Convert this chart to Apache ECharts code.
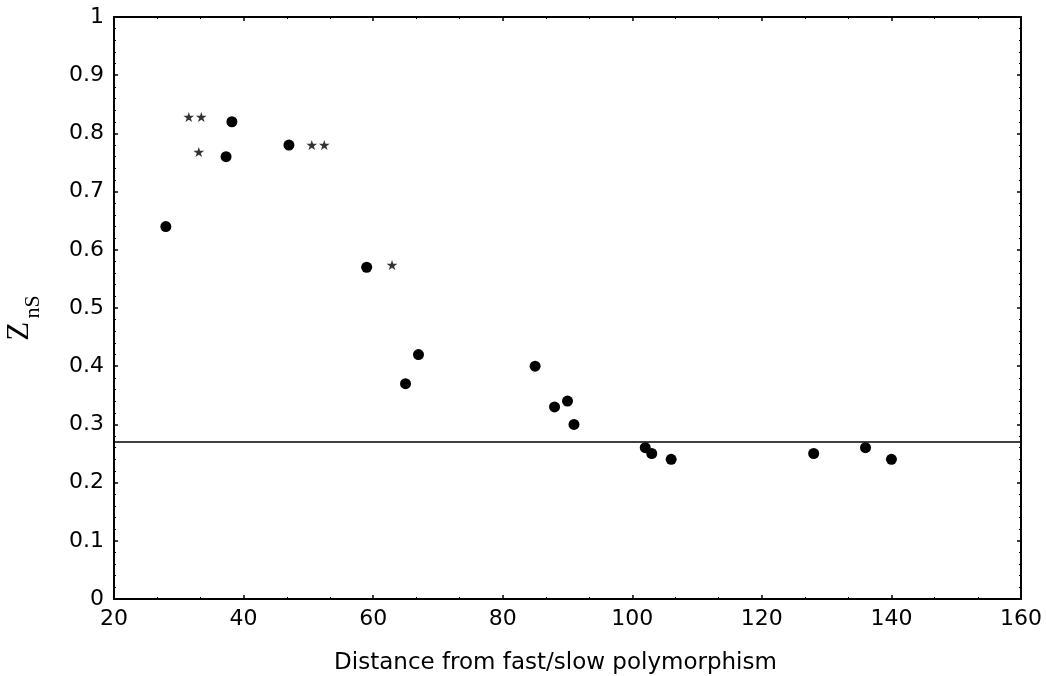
<!DOCTYPE html>
<html>
<head>
<meta charset="utf-8">
<script src="https://cdn.jsdelivr.net/npm/echarts@6/dist/echarts.min.js"></script>
<style>html,body{margin:0;padding:0;background:#fff}#c{width:1046px;height:676px}</style>
</head>
<body>
<div id="c"></div>
<script>
const distances = [28, 37.3, 38.2, 47, 59, 65, 67, 85, 88, 90, 91, 102, 103, 106, 128, 136, 140];
const zns =       [0.64, 0.76, 0.82, 0.78, 0.57, 0.37, 0.42, 0.40, 0.33, 0.34, 0.30, 0.26, 0.25, 0.24, 0.25, 0.26, 0.24];
const starX = [32.5, 33.1, 51.5, 62.9];
const starY = [0.826, 0.766, 0.778, 0.571];
const starText = ['★★', '★', '★★', '★'];
const thresholdValue = 0.27;
const xTicks = [20, 40, 60, 80, 100, 120, 140, 160];
const yTicks = [0, 0.1, 0.2, 0.3, 0.4, 0.5, 0.6, 0.7, 0.8, 0.9, 1];

const chart = echarts.init(document.getElementById('c'));
const font = 'DejaVu Sans, Liberation Sans, sans-serif';
const axisCommon = {
  axisLine: {show: true, onZero: false, lineStyle: {color: '#000', width: 2}},
  axisTick: {show: true, inside: true, length: 4, lineStyle: {color: '#000', width: 1.5}},
  minorTick: {show: true, length: 2, lineStyle: {color: '#000', width: 1}},
  splitLine: {show: false}
};
chart.setOption({
  backgroundColor: '#fff',
  animation: false,
  grid: {left: 114, right: 25, top: 17, bottom: 77, containLabel: false, outerBoundsMode: 'none'},
  xAxis: [
    Object.assign({}, axisCommon, {
      type: 'value', min: xTicks[0], max: xTicks[xTicks.length - 1], interval: 20,
      minorTick: Object.assign({}, axisCommon.minorTick, {splitNumber: 3}),
      axisLabel: {color: '#000', fontSize: 22, fontFamily: font, margin: 9},
      name: 'Distance from fast/slow polymorphism', nameLocation: 'middle', nameGap: 53,
      nameTextStyle: {color: '#000', fontSize: 23, fontFamily: font, padding: [0, 24, 0, 0]}
    }),
    Object.assign({}, axisCommon, {
      type: 'value', position: 'top', min: 20, max: 160, interval: 20,
      minorTick: Object.assign({}, axisCommon.minorTick, {splitNumber: 3}),
      axisLabel: {show: false}
    })
  ],
  yAxis: [
    Object.assign({}, axisCommon, {
      type: 'value', min: yTicks[0], max: yTicks[yTicks.length - 1], interval: 0.1,
      minorTick: Object.assign({}, axisCommon.minorTick, {splitNumber: 5}),
      axisLabel: {color: '#000', fontSize: 22, fontFamily: font, margin: 10},
      name: '{z|Z} {s|nS}', nameLocation: 'middle', nameGap: 70, nameRotate: 90,
      nameTextStyle: {rich: {
        z: {fontSize: 31, lineHeight: 40, verticalAlign: 'top', fontFamily: 'Liberation Serif, serif', color: '#000'},
        s: {fontSize: 22, lineHeight: 40, verticalAlign: 'bottom', fontFamily: 'Liberation Serif, serif', color: '#000', padding: [0, 20, 0, 0]}
      }}
    }),
    Object.assign({}, axisCommon, {
      type: 'value', position: 'right', min: 0, max: 1, interval: 0.1,
      minorTick: Object.assign({}, axisCommon.minorTick, {splitNumber: 5}),
      axisLabel: {show: false}
    })
  ],
  series: [
    {
      type: 'scatter', symbol: 'circle', symbolSize: 11,
      itemStyle: {color: '#000', opacity: 1},
      data: distances.map((d, i) => [d, zns[i]]),
      markLine: {
        silent: true, symbol: 'none', label: {show: false},
        lineStyle: {color: '#000', width: 1.5, type: 'solid'},
        data: [{yAxis: thresholdValue}]
      }
    },
    {
      type: 'scatter', symbolSize: 0, symbol: 'circle',
      itemStyle: {color: 'transparent'},
      data: starX.map((x, i) => ({value: [x, starY[i]], name: starText[i]})),
      label: {show: true, position: 'inside', formatter: p => p.name,
        color: '#000', fontSize: 14, fontFamily: 'DejaVu Sans, sans-serif'}
    }
  ]
});
</script>
</body>
</html>
